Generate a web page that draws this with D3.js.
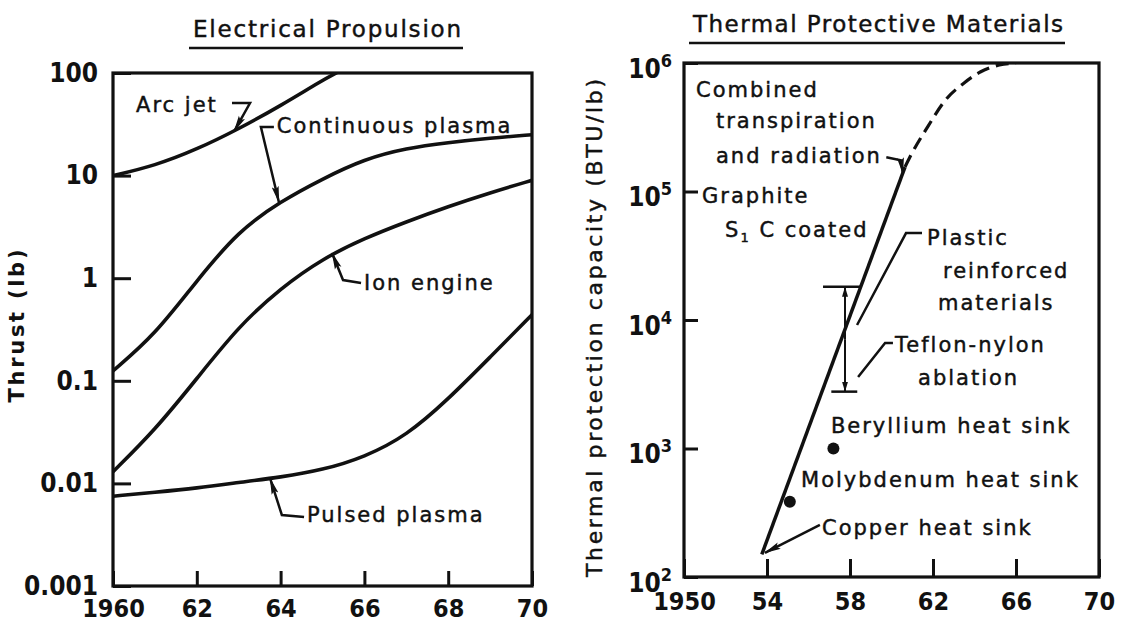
<!DOCTYPE html>
<html>
<head>
<meta charset="utf-8">
<script src="https://cdn.jsdelivr.net/npm/d3@7"></script>
<style>
  html, body { margin: 0; padding: 0; background: #fff; }
  svg { display: block; }
  text { font-family: "DejaVu Sans", sans-serif; fill: #111; }
  .note { stroke: #111; stroke-width: 0.45px; }
  .tick text { font-family: "Liberation Sans Narrow", "DejaVu Sans Condensed", "DejaVu Sans", sans-serif; font-weight: bold; }
</style>
</head>
<body>
<svg id="chart" width="1122" height="626"></svg>
<script>
// ---------- Electrical propulsion: thrust (lb) by year ----------
const arcJet = [[1960, 10], [1961, 12.5], [1962, 18], [1963, 28.5], [1964, 48], [1965, 85], [1965.33, 100]];
const continuousPlasma = [[1960, 0.125], [1961, 0.28], [1962, 0.95], [1963, 2.9], [1964, 5.6], [1965, 9.3],
  [1966, 14.5], [1967, 18.5], [1968, 21], [1969, 23.2], [1970, 25]];
const ionEngine = [[1960, 0.013], [1961, 0.033], [1962, 0.105], [1963, 0.34], [1964, 0.8], [1965, 1.55],
  [1966, 2.45], [1967, 3.55], [1968, 5], [1969, 6.8], [1970, 9]];
const pulsedPlasma = [[1960, 0.0075], [1961, 0.0082], [1962, 0.009], [1963, 0.0102], [1964, 0.0115], [1965, 0.0135],
  [1966, 0.018], [1967, 0.029], [1968, 0.066], [1969, 0.17], [1970, 0.44]];

const thrustTicks = [0.001, 0.01, 0.1, 1, 10, 100];
const thrustTickLabels = ["0.001", "0.01", "0.1", "1", "10", "100"];
const propYearTicks = [1960, 1962, 1964, 1966, 1968, 1970];
const propYearLabels = ["1960", "62", "64", "66", "68", "70"];

// labels and leader lines, in data units (year, lb)
const propLabels = [
  { text: "Arc jet", at: [1960.55, 41.7] },
  { text: "Continuous plasma", at: [1963.91, 26] },
  { text: "Ion engine", at: [1965.99, 0.767] },
  { text: "Pulsed plasma", at: [1964.63, 0.0042] }
];
const propLeaders = [
  [[1962.84, 51], [1963.27, 51], [1962.89, 27]],
  [[1963.84, 29.8], [1963.53, 29.8], [1963.96, 5.5]],
  [[1965.92, 0.9], [1965.49, 0.96], [1965.23, 1.75]],
  [[1964.56, 0.0047], [1964.03, 0.00492], [1963.75, 0.0112]]
];

// ---------- Thermal protective materials: BTU/lb by year ----------
const thermalSolid = [[1953.75, 150], [1960.65, 1.55e5]];
const thermalDashed = [[1960.65, 1.55e5], [1960.9, 1.87e5], [1961.75, 3.2e5], [1962.6, 5.15e5],
  [1963.5, 7e5], [1964.3, 8.55e5], [1965.2, 9.65e5], [1966, 1e6]];
const heatSinkDots = [[1957.2, 1000], [1955.1, 385]];
const teflonRange = { year: 1957.76, low: 2770, high: 18150 };
const teflonCapTop = [1956.7, 1958.5];
const teflonCapBottom = [1957.1, 1958.35];

const capacityTicks = [1e2, 1e3, 1e4, 1e5, 1e6];
const capacityExponents = ["2", "3", "4", "5", "6"];
const thermYearTicks = [1950, 1954, 1958, 1962, 1966, 1970];
const thermYearLabels = ["1950", "54", "58", "62", "66", "70"];

const thermLabels = [
  { text: "Combined", at: [1950.58, 5.43e5] },
  { text: "transpiration", at: [1951.54, 3.12e5] },
  { text: "and radiation", at: [1951.54, 1.67e5] },
  { text: "Graphite", at: [1950.87, 8.15e4] },
  { text: "S", sub: "1", rest: " C coated", at: [1951.98, 4.43e4] },
  { text: "Plastic", at: [1961.71, 3.84e4] },
  { text: "reinforced", at: [1962.48, 2.12e4] },
  { text: "materials", at: [1962.24, 1.2e4] },
  { text: "Teflon-nylon", at: [1960.17, 5640] },
  { text: "ablation", at: [1961.28, 3120] },
  { text: "Beryllium heat sink", at: [1957.08, 1320] },
  { text: "Molybdenum heat sink", at: [1955.64, 501] },
  { text: "Copper heat sink", at: [1956.65, 212] }
];
const thermLeaders = [
  { pts: [[1959.75, 1.85e5], [1960.45, 1.75e5], [1960.55, 1.38e5]], arrow: true },
  { pts: [[1961.47, 4.75e4], [1960.7, 4.75e4], [1958.34, 9140]], arrow: false },
  { pts: [[1960.07, 6620], [1959.69, 6620], [1958.39, 3600]], arrow: false },
  { pts: [[1956.55, 254], [1953.9, 154]], arrow: true }
];

const ink = "#111";
const svg = d3.select("#chart");
const defs = svg.append("defs");

defs.append("marker")
    .attr("id", "arrow")
    .attr("viewBox", "0 0 17 8")
    .attr("refX", 16).attr("refY", 4)
    .attr("markerWidth", 17).attr("markerHeight", 8)
    .attr("markerUnits", "userSpaceOnUse")
    .attr("orient", "auto")
  .append("path")
    .attr("d", "M0,0.5 L17,4 L0,7.5 L3,4 Z")
    .attr("fill", ink);

defs.append("marker")
    .attr("id", "barArrow")
    .attr("viewBox", "0 0 10 6")
    .attr("refX", 10).attr("refY", 3)
    .attr("markerWidth", 10).attr("markerHeight", 6)
    .attr("markerUnits", "userSpaceOnUse")
    .attr("orient", "auto")
  .append("path")
    .attr("d", "M0,0 L10,3 L0,6 Z")
    .attr("fill", ink);

function frame(g, x, y, id) {
  const [x0, x1] = x.range(), [y0, y1] = y.range();
  defs.append("clipPath").attr("id", id)
    .append("rect").attr("x", x0).attr("y", y1).attr("width", x1 - x0).attr("height", y0 - y1);
  g.append("rect")
      .attr("x", x0).attr("y", y1)
      .attr("width", x1 - x0).attr("height", y0 - y1)
      .attr("fill", "none").attr("stroke", ink).attr("stroke-width", 3.2);
}

function styleAxis(g, size) {
  g.select(".domain").remove();
  g.selectAll(".tick line").attr("stroke", ink).attr("stroke-width", 3);
  g.selectAll(".tick text").attr("fill", ink).attr("font-size", size);
}

function title(text, cx, baseline, width, lineY) {
  svg.append("text")
      .attr("class", "note")
      .attr("x", cx).attr("y", baseline)
      .attr("text-anchor", "middle")
      .attr("font-size", 23)
      .attr("textLength", width).attr("lengthAdjust", "spacing")
      .text(text);
  svg.append("line")
      .attr("x1", cx - width / 2 - 4).attr("x2", cx + width / 2 + 2)
      .attr("y1", lineY).attr("y2", lineY)
      .attr("stroke", ink).attr("stroke-width", 2.5);
}

// ================= Left panel =================
const xL = d3.scaleLinear().domain([1960, 1970]).range([113, 532]);
const yL = d3.scaleLog().domain([0.001, 100]).range([586, 73]);
const gL = svg.append("g");
frame(gL, xL, yL, "clipL");

gL.append("g")
    .attr("transform", `translate(${xL(1960)},0)`)
    .call(d3.axisLeft(yL).tickValues(thrustTicks).tickSize(-18).tickPadding(15)
      .tickFormat((d, i) => thrustTickLabels[i]))
    .call(g => styleAxis(g, 26));

gL.append("g")
    .attr("transform", `translate(0,${yL(0.001)})`)
    .call(d3.axisBottom(xL).tickValues(propYearTicks).tickSize(-15).tickPadding(13)
      .tickFormat((d, i) => propYearLabels[i]))
    .call(g => styleAxis(g, 25));

const lineL = d3.line().x(d => xL(d[0])).y(d => yL(d[1])).curve(d3.curveBasis);
gL.append("g")
    .attr("clip-path", "url(#clipL)")
  .selectAll("path")
  .data([arcJet, continuousPlasma, ionEngine, pulsedPlasma])
  .join("path")
    .attr("d", lineL)
    .attr("fill", "none")
    .attr("stroke", ink)
    .attr("stroke-width", 3.6)
    .attr("stroke-linecap", "round");

const leaderL = d3.line().x(d => xL(d[0])).y(d => yL(d[1]));
gL.append("g")
  .selectAll("path")
  .data(propLeaders)
  .join("path")
    .attr("d", leaderL)
    .attr("fill", "none")
    .attr("stroke", ink)
    .attr("stroke-width", 2.5)
    .attr("marker-end", "url(#arrow)");

gL.append("g")
  .selectAll("text")
  .data(propLabels)
  .join("text")
    .attr("class", "note")
    .attr("x", d => xL(d.at[0]))
    .attr("y", d => yL(d.at[1]))
    .attr("font-size", 21)
    .attr("letter-spacing", 2)
    .text(d => d.text);

svg.append("text")
    .attr("transform", "translate(24,326) rotate(-90)")
    .attr("text-anchor", "middle")
    .attr("font-size", 21)
    .attr("font-weight", "bold")
    .attr("textLength", 153).attr("lengthAdjust", "spacing")
    .text("Thrust (lb)");

title("Electrical Propulsion", 327, 37, 268, 48);

// ================= Right panel =================
const xR = d3.scaleLinear().domain([1950, 1970]).range([684, 1099]);
const yR = d3.scaleLog().domain([1e2, 1e6]).range([577, 63]);
const gR = svg.append("g");
frame(gR, xR, yR, "clipR");

gR.append("g")
    .attr("transform", `translate(${xR(1950)},0)`)
    .call(d3.axisLeft(yR).tickValues(capacityTicks).tickSize(-14).tickPadding(24).tickFormat(() => "10"))
    .call(g => styleAxis(g, 26))
    .call(g => g.selectAll(".tick text")
      .attr("dy", "0.55em")
      .each(function(d, i) {
        d3.select(this).append("tspan")
            .attr("dy", "-0.62em")
            .attr("font-size", 18)
            .text(capacityExponents[i]);
      }))
    .call(g => g.selectAll(".tick text").attr("x", -12));

gR.append("g")
    .attr("transform", `translate(0,${yR(1e2)})`)
    .call(d3.axisBottom(xR).tickValues(thermYearTicks).tickSize(-18).tickPadding(15)
      .tickFormat((d, i) => thermYearLabels[i]))
    .call(g => styleAxis(g, 25));

const lineR = d3.line().x(d => xR(d[0])).y(d => yR(d[1]));
const curveR = d3.line().x(d => xR(d[0])).y(d => yR(d[1])).curve(d3.curveMonotoneX);
gR.append("path")
    .attr("d", lineR(thermalSolid))
    .attr("fill", "none").attr("stroke", ink).attr("stroke-width", 3.5);
gR.append("path")
    .attr("clip-path", "url(#clipR)")
    .attr("d", curveR(thermalDashed))
    .attr("fill", "none").attr("stroke", ink).attr("stroke-width", 3.2)
    .attr("stroke-dasharray", "13,7");

gR.append("g")
  .selectAll("circle")
  .data(heatSinkDots)
  .join("circle")
    .attr("cx", d => xR(d[0]))
    .attr("cy", d => yR(d[1]))
    .attr("r", 6)
    .attr("fill", ink);

// Teflon-nylon range bar
const bar = gR.append("g").attr("stroke", ink).attr("fill", "none");
const midRange = Math.sqrt(teflonRange.low * teflonRange.high);
bar.append("path")
    .attr("d", lineR([[teflonRange.year, midRange], [teflonRange.year, teflonRange.high]]))
    .attr("stroke-width", 2).attr("marker-end", "url(#barArrow)");
bar.append("path")
    .attr("d", lineR([[teflonRange.year, midRange], [teflonRange.year, teflonRange.low]]))
    .attr("stroke-width", 2).attr("marker-end", "url(#barArrow)");
bar.append("path")
    .attr("d", lineR([[teflonCapTop[0], teflonRange.high], [teflonCapTop[1], teflonRange.high]]))
    .attr("stroke-width", 2.5);
bar.append("path")
    .attr("d", lineR([[teflonCapBottom[0], teflonRange.low], [teflonCapBottom[1], teflonRange.low]]))
    .attr("stroke-width", 2.5);

gR.append("g")
  .selectAll("path")
  .data(thermLeaders)
  .join("path")
    .attr("d", d => lineR(d.pts))
    .attr("fill", "none")
    .attr("stroke", ink)
    .attr("stroke-width", 2.5)
    .attr("marker-end", d => d.arrow ? "url(#arrow)" : null);

gR.append("g")
  .selectAll("text")
  .data(thermLabels)
  .join("text")
    .attr("class", "note")
    .attr("x", d => xR(d.at[0]))
    .attr("y", d => yR(d.at[1]))
    .attr("font-size", 21)
    .attr("letter-spacing", 2)
    .each(function(d) {
      const t = d3.select(this);
      t.append("tspan").text(d.text);
      if (d.sub) {
        t.append("tspan").attr("font-size", 13).attr("dy", 5).text(d.sub);
        t.append("tspan").attr("dy", -5).text(d.rest);
      }
    });

svg.append("text")
    .attr("class", "note")
    .attr("transform", "translate(602,328) rotate(-90)")
    .attr("text-anchor", "middle")
    .attr("font-size", 22)
    .attr("textLength", 498).attr("lengthAdjust", "spacing")
    .text("Thermal protection capacity (BTU/lb)");

title("Thermal Protective Materials", 878, 32, 370, 43);
</script>
</body>
</html>
